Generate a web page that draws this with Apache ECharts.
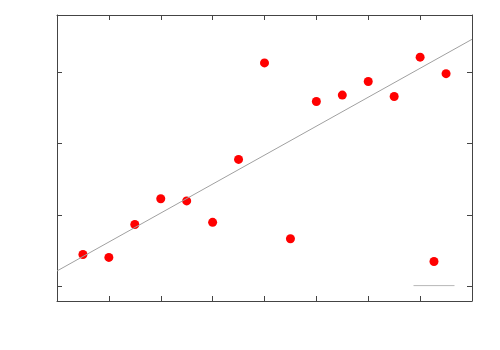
<!DOCTYPE html>
<html>
<head>
<meta charset="utf-8">
<script src="https://cdn.jsdelivr.net/npm/echarts@6/dist/echarts.min.js"></script>
<style>
  html, body { margin: 0; padding: 0; background: #fff; }
  #chart { width: 500px; height: 350px; }
</style>
</head>
<body>
<div id="chart"></div>
<script>
// data
var xValues = [1, 2, 3, 4, 5, 6, 7, 8, 9, 10, 11, 12, 13, 14, 15];
var yValues = [4.5, 4.1, 8.7, 12.3, 12.0, 9.0, 17.8, 31.3, 6.7, 25.9, 26.8, 28.7, 26.6, 32.1, 29.8];
// fitted line end points
var fitX = [0, 16];
var fitY = [2.2, 34.6];
var yTicks = [0, 10, 20, 30];

var chart = echarts.init(document.getElementById('chart'));

var points = [];
for (var i = 0; i < xValues.length; i++) {
    points.push([xValues[i], yValues[i]]);
}
var fitLine = [];
for (var j = 0; j < fitX.length; j++) {
    fitLine.push([fitX[j], fitY[j]]);
}

var frameColor = '#444';

function xAxisDef(pos) {
    return {
        type: 'value',
        position: pos,
        min: 0,
        max: 16,
        interval: 2,
        axisLine: { show: true, onZero: false, lineStyle: { color: frameColor, width: 1 } },
        axisTick: { show: true, inside: true, length: 5, lineStyle: { color: frameColor } },
        axisLabel: { show: false },
        splitLine: { show: false }
    };
}

function yAxisDef(pos) {
    return {
        type: 'value',
        position: pos,
        min: -2,
        max: 38,
        axisLine: { show: true, onZero: false, lineStyle: { color: frameColor, width: 1 } },
        axisTick: { show: true, inside: true, length: 5, customValues: yTicks, lineStyle: { color: frameColor } },
        axisLabel: { show: false },
        splitLine: { show: false }
    };
}

option = {
    animation: false,
    grid: { left: 57, right: 28, top: 15, bottom: 49 },
    legend: {
        orient: 'vertical',
        left: 413,
        top: 257,
        padding: 0,
        itemWidth: 41,
        itemHeight: 9,
        itemGap: 16,
        textStyle: { fontSize: 1, color: 'rgba(0,0,0,0)' },
        data: [
            { name: ' ', itemStyle: { opacity: 1 } },
            { name: '\u00a0', itemStyle: { opacity: 0 }, lineStyle: { color: '#b8b8b8', width: 1 } }
        ]
    },
    xAxis: [xAxisDef('bottom'), xAxisDef('top')],
    yAxis: [yAxisDef('left'), yAxisDef('right')],
    series: [{
        name: ' ',
        type: 'scatter',
        xAxisIndex: 0,
        yAxisIndex: 0,
        data: points,
        symbol: 'circle',
        symbolSize: 9,
        itemStyle: { color: '#ff0000', opacity: 1 }
    }, {
        name: '\u00a0',
        type: 'line',
        xAxisIndex: 0,
        yAxisIndex: 0,
        data: fitLine,
        symbol: 'none',
        lineStyle: { color: '#a0a0a0', width: 1 },
        itemStyle: { color: '#a0a0a0' }
    }]
};

chart.setOption(option);
</script>
</body>
</html>
